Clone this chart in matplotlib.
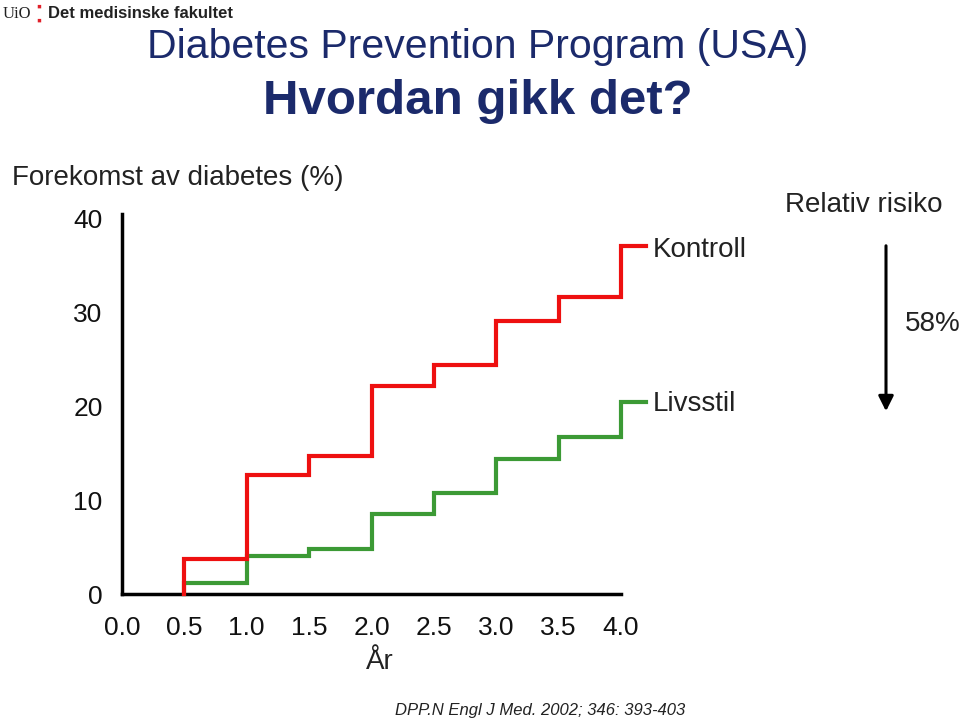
import matplotlib
matplotlib.use("Agg")
import matplotlib.pyplot as plt

plt.rcParams['font.family'] = ['Liberation Sans', 'DejaVu Sans']

# Data
years = [0.5, 1.0, 1.5, 2.0, 2.5, 3.0, 3.5, 4.0, 4.2]
kontroll = [3.7, 12.7, 14.7, 22.1, 24.4, 29.0, 31.6, 37.0, 37.0]
livsstil = [1.2, 4.0, 4.8, 8.5, 10.7, 14.4, 16.7, 20.4, 20.4]
xticks = [0.0, 0.5, 1.0, 1.5, 2.0, 2.5, 3.0, 3.5, 4.0]
xticklabels = ["0.0", "0.5", "1.0", "1.5", "2.0", "2.5", "3.0", "3.5", "4.0"]
yticks = [0, 10, 20, 30, 40]

W, H = 960, 719
fig = plt.figure(figsize=(W / 100, H / 100), dpi=100)

def fx(px):
    return px / W

def fy(py):
    return 1 - py / H

x0, x1 = 122, 122 + 4.2 * 124.75
y0, y1 = 594, 218
ax = fig.add_axes([fx(x0), fy(y0), fx(x1) - fx(x0), fy(y1) - fy(y0)])
ax.set_xlim(0, 4.2)
ax.set_ylim(0, 40)

green = "#3c9a35"
red = "#ee1010"
lw = 3.0
ax.step([0.5] + years, [0] + livsstil, where="post", color=green, lw=lw,
        solid_joinstyle="miter", clip_on=False, zorder=3)
ax.step([0.5] + years, [0] + kontroll, where="post", color=red, lw=lw,
        solid_joinstyle="miter", clip_on=False, zorder=4)

for s in ["top", "right"]:
    ax.spines[s].set_visible(False)
ax.spines["left"].set_linewidth(2.5)
ax.spines["bottom"].set_linewidth(2.5)
ax.spines["bottom"].set_bounds(0, 4.0)
ax.spines["left"].set_bounds(0, 40.4)

ax.set_xticks(xticks)
ax.set_xticklabels(xticklabels)
ax.set_yticks(yticks)
ax.tick_params(axis="y", length=0, pad=14, labelsize=19, labelcolor="#111111")
ax.tick_params(axis="x", length=0, pad=16, labelsize=19, labelcolor="#111111")

# Texts
navy = "#1b2a6b"
fig.text(fx(478), fy(47), "Diabetes Prevention Program (USA)", ha="center", va="center",
         fontsize=29.5, color=navy)
fig.text(fx(478), fy(101), "Hvordan gikk det?", ha="center", va="center",
         fontsize=35.5, color=navy, fontweight="bold")

fig.text(fx(3), fy(14), "UiO", ha="left", va="center", fontsize=12,
         family="Liberation Serif", color="#222222")
fig.text(fx(36), fy(14), "\u25aa", ha="left", va="bottom", fontsize=10, color="#e0202a")
fig.text(fx(36), fy(14), "\u25aa", ha="left", va="top", fontsize=10, color="#e0202a")
fig.text(fx(48), fy(14), "Det medisinske fakultet", ha="left", va="center", fontsize=12,
         fontweight="bold", color="#222222")

fs = 20
fig.text(fx(12), fy(178), "Forekomst av diabetes (%)", ha="left", va="center",
         fontsize=fs, color="#222222")
fig.text(fx(653), fy(250), "Kontroll", ha="left", va="center", fontsize=fs, color="#222222")
fig.text(fx(653), fy(404), "Livsstil", ha="left", va="center", fontsize=fs, color="#222222")
fig.text(fx(785), fy(205), "Relativ risiko", ha="left", va="center", fontsize=fs, color="#222222")
fig.text(fx(905), fy(324), "58%", ha="left", va="center", fontsize=fs, color="#222222")
fig.text(fx(380), fy(662), "År", ha="center", va="center", fontsize=fs, color="#222222")
fig.text(fx(395), fy(710), "DPP.N Engl J Med. 2002; 346: 393-403", ha="left", va="center",
         fontsize=12, style="italic", color="#222222")

fig.patches.append(matplotlib.patches.FancyArrowPatch(
    (fx(886), fy(243)), (fx(886), fy(414)), transform=fig.transFigure,
    arrowstyle="-|>,head_length=6,head_width=3", lw=2.2, color="black",
    mutation_scale=1.5))

fig.savefig("out.png", dpi=100)
